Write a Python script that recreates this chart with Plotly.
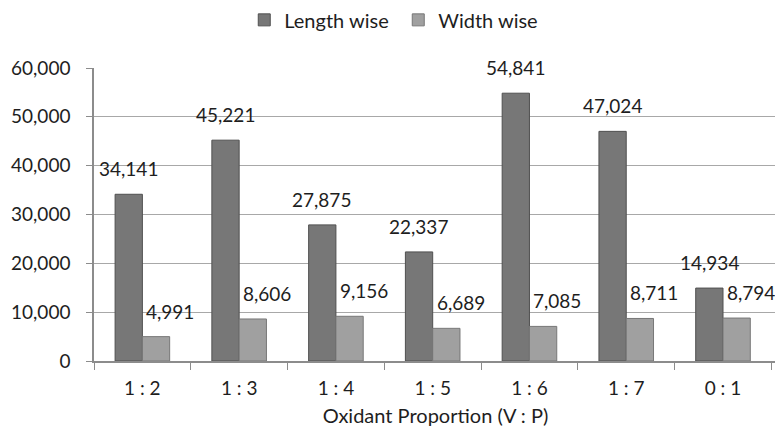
import plotly.graph_objects as go

categories = ["1 : 2", "1 : 3", "1 : 4", "1 : 5", "1 : 6", "1 : 7", "0 : 1"]
length_wise = [34141, 45221, 27875, 22337, 54841, 47024, 14934]
width_wise = [4991, 8606, 9156, 6689, 7085, 8711, 8794]
y_ticks = [0, 10000, 20000, 30000, 40000, 50000, 60000]

FONT = "Lato"
TXT = "#1e1e1e"

fig = go.Figure()
fig.add_trace(go.Bar(
    name="Length wise", x=categories, y=length_wise,
    marker=dict(color="#777777", line=dict(color="#505050", width=1)),
))
fig.add_trace(go.Bar(
    name="Width wise", x=categories, y=width_wise,
    marker=dict(color="#a0a0a0", line=dict(color="#777777", width=1)),
))

annotations = []
for c, v in zip(categories, length_wise):
    annotations.append(dict(x=c, y=v, text=f"{v:,}", showarrow=False,
                            xshift=-14, yshift=12, yanchor="bottom",
                            font=dict(family=FONT, size=19, color=TXT)))
for c, v in zip(categories, width_wise):
    annotations.append(dict(x=c, y=v, text=f"{v:,}", showarrow=False,
                            xshift=28, yshift=12, yanchor="bottom",
                            font=dict(family=FONT, size=19, color=TXT)))

# page body has an 8px default margin; figure is sized to fill the rest
fig.update_layout(
    width=775, height=424,
    margin=dict(l=86, r=6, t=60, b=71),
    paper_bgcolor="white", plot_bgcolor="white",
    barmode="group", bargap=0.436, bargroupgap=0,
    font=dict(family=FONT, size=19, color=TXT),
    showlegend=True,
    legend=dict(orientation="h", x=0.22, xanchor="left",
                yref="container", y=0.972, yanchor="middle",
                font=dict(family=FONT, size=20, color=TXT), itemwidth=30,
                entrywidth=109, entrywidthmode="pixels",
                traceorder="normal"),
    annotations=annotations,
    xaxis=dict(
        automargin=False,
        showline=True, linecolor="#8c8c8c", linewidth=1.5,
        ticks="outside", tickson="boundaries", ticklen=7, tickcolor="#8c8c8c",
        ticklabelstandoff=9,
        tickfont=dict(family=FONT, size=19, color=TXT),
        title=dict(text="Oxidant Proportion (V : P)", standoff=11,
                   font=dict(family=FONT, size=20, color=TXT)),
        showgrid=False,
    ),
    yaxis=dict(
        automargin=False,
        range=[0, 60000], tickvals=y_ticks, tickformat=",",
        showline=True, linecolor="#8c8c8c", linewidth=1.5,
        ticks="outside", ticklen=6, tickcolor="#8c8c8c",
        ticklabelstandoff=12,
        showgrid=True, gridcolor="#a8a8a8", gridwidth=1.3,
        zeroline=False,
        tickfont=dict(family=FONT, size=19, color=TXT),
    ),
)

fig.write_html("out.html")
